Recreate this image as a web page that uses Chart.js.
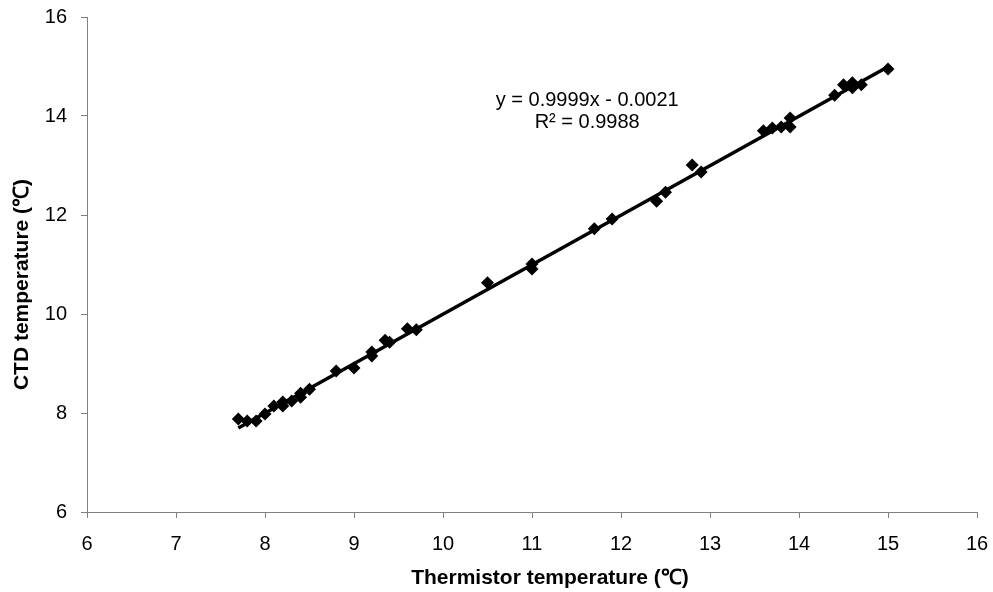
<!DOCTYPE html>
<html>
<head>
<meta charset="utf-8">
<script src="https://cdn.jsdelivr.net/npm/chart.js@4/dist/chart.umd.min.js"></script>
<style>
  html, body { margin: 0; padding: 0; background: #fff; }
  #wrap { width: 993px; height: 592px; }
</style>
</head>
<body>
<div id="wrap"><canvas id="chart" width="993" height="592"></canvas></div>
<script>
// thermistor vs CTD readings
const thermistorTemps = [7.7, 7.8, 7.9, 8.0, 8.1, 8.2, 8.2, 8.3, 8.4, 8.4, 8.5, 8.8, 9.0, 9.2, 9.2, 9.35, 9.4, 9.6, 9.7,
  10.5, 11.0, 11.0, 11.7, 11.9, 12.4, 12.5, 12.8, 12.9, 13.6, 13.7, 13.8, 13.9, 13.9, 14.4, 14.5, 14.6, 14.6, 14.7, 15.0];
const ctdTemps = [7.88, 7.84, 7.84, 7.98, 8.14, 8.22, 8.14, 8.24, 8.40, 8.32, 8.48, 8.85, 8.91, 9.23, 9.15, 9.47, 9.43, 9.70, 9.68,
  10.63, 11.01, 10.91, 11.72, 11.92, 12.28, 12.46, 13.01, 12.87, 13.70, 13.76, 13.78, 13.96, 13.78, 14.42, 14.63, 14.67, 14.57, 14.63, 14.95];

const slope = 0.9999;
const intercept = -0.0021;
const fitRange = [7.7, 15.0];
const equationLines = ["y = 0.9999x - 0.0021", "R\u00b2 = 0.9988"];
const xTitle = "Thermistor temperature (\u2103)";
const yTitle = "CTD temperature (\u2103)";

const xTicks = [6, 7, 8, 9, 10, 11, 12, 13, 14, 15, 16];
const yTicks = [6, 8, 10, 12, 14, 16];

const points = thermistorTemps.map((t, i) => ({ x: t, y: ctdTemps[i] }));
const fitLine = fitRange.map(x => ({ x: x, y: slope * x + intercept }));

const axisGrey = "#808080";
const font = "'Liberation Sans', Arial, sans-serif";

// trendline label + axis titles (titles sit a bit off the plot centre, like the original)
const textLayer = {
  id: "textLayer",
  afterDraw(chart) {
    const ctx = chart.ctx;
    const xs = chart.scales.x, ys = chart.scales.y;
    const area = chart.chartArea;
    ctx.save();
    ctx.fillStyle = "#000";
    ctx.textAlign = "center";
    ctx.textBaseline = "middle";
    ctx.font = "20px " + font;
    ctx.fillText(equationLines[0], xs.getPixelForValue(11.62), ys.getPixelForValue(14.32));
    ctx.fillText(equationLines[1], xs.getPixelForValue(11.62), ys.getPixelForValue(13.86));

    ctx.font = "bold 21px " + font;
    ctx.fillText(xTitle, (area.left + area.right) / 2 + 18, chart.height - 14);
    ctx.translate(22, (area.top + area.bottom) / 2 + 20);
    ctx.rotate(-Math.PI / 2);
    ctx.fillText(yTitle, 0, 0);
    ctx.restore();
  }
};

new Chart(document.getElementById("chart"), {
  type: "scatter",
  data: {
    datasets: [
      {
        label: "Data",
        data: points,
        pointStyle: "rectRot",
        pointRadius: 6.5,
        pointHoverRadius: 6.5,
        backgroundColor: "#000",
        borderColor: "#000",
        borderWidth: 0
      },
      {
        type: "line",
        label: "Fit",
        data: fitLine,
        borderColor: "#000",
        borderWidth: 3.5,
        pointRadius: 0,
        fill: false
      }
    ]
  },
  options: {
    responsive: false,
    animation: false,
    layout: { padding: { top: 17, right: 16, left: 0, bottom: 0 } },
    plugins: {
      legend: { display: false },
      tooltip: { enabled: false }
    },
    scales: {
      x: {
        type: "linear",
        min: 6,
        max: 16,
        afterBuildTicks: axis => { axis.ticks = xTicks.map(v => ({ value: v })); },
        afterFit: axis => { axis.height = 80; axis.paddingRight = 0; axis.paddingLeft = 0; },
        grid: { drawOnChartArea: false, drawTicks: true, tickLength: 6, color: axisGrey },
        border: { display: true, color: axisGrey, width: 1 },
        ticks: { color: "#000", font: { family: font, size: 20 }, padding: 14, maxRotation: 0 },
        title: { display: false }
      },
      y: {
        type: "linear",
        min: 6,
        max: 16,
        afterBuildTicks: axis => { axis.ticks = yTicks.map(v => ({ value: v })); },
        afterFit: axis => { axis.width = 87; axis.paddingTop = 0; axis.paddingBottom = 0; },
        grid: { drawOnChartArea: false, drawTicks: true, tickLength: 6, color: axisGrey },
        border: { display: true, color: axisGrey, width: 1 },
        ticks: { color: "#000", font: { family: font, size: 20 }, padding: 14 },
        title: { display: false }
      }
    }
  },
  plugins: [textLayer]
});
</script>
</body>
</html>
